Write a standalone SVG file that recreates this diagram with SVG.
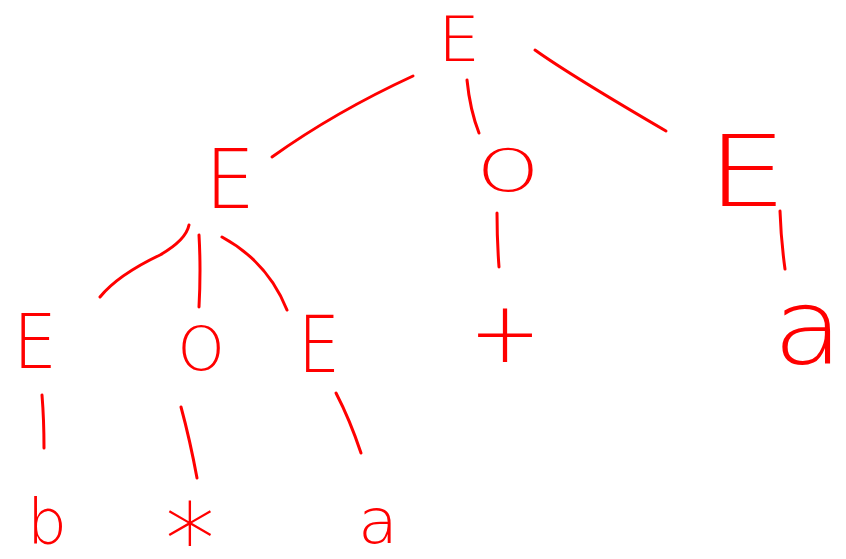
<svg xmlns="http://www.w3.org/2000/svg" width="846" height="559" viewBox="0 0 846 559">
<style>
.t{font-family:"DejaVu Sans","Liberation Sans",sans-serif;font-weight:200;fill:#ff0000;text-anchor:middle}
.e{fill:none;stroke:#ff0000;stroke-width:3;stroke-linecap:round;stroke-linejoin:round}
</style>
<rect width="846" height="559" fill="#ffffff"/>
<g id="connectors">
<path class="e" d="M413,76 Q335,112 272,157"/>
<path class="e" d="M467,80 Q470,110 479,133"/>
<path class="e" d="M535,50 Q570,75 666,131"/>
<path class="e" d="M189,225 Q186,240 160,255 Q118,275 100,297"/>
<path class="e" d="M199,235 Q201,270 199,307"/>
<path class="e" d="M222,237 Q268,262 287,310"/>
<path class="e" d="M497,213 Q497,240 499,267"/>
<path class="e" d="M780,211 Q781,240 785,269"/>
<path class="e" d="M42,395 Q44,420 44,448"/>
<path class="e" d="M181,407 Q190,440 197,478"/>
<path class="e" d="M336,393 Q350,420 361,453"/>
</g>
<g id="n-root"><text class="t" x="459" y="61" font-size="62" textLength="42" lengthAdjust="spacingAndGlyphs">E</text></g>
<g id="n-e1"><text class="t" x="230" y="208" font-size="82" textLength="50" lengthAdjust="spacingAndGlyphs">E</text></g>
<g id="n-o1"><text class="t" x="508" y="191" font-size="58" textLength="62" lengthAdjust="spacingAndGlyphs">O</text></g>
<g id="n-e2"><text class="t" x="747" y="206" font-size="98" textLength="80" lengthAdjust="spacingAndGlyphs">E</text></g>
<g id="n-e3"><text class="t" x="35" y="368" font-size="74" textLength="44" lengthAdjust="spacingAndGlyphs">E</text></g>
<g id="n-o2"><text class="t" x="201" y="370" font-size="60">O</text></g>
<g id="n-e4"><text class="t" x="319" y="372" font-size="78" textLength="42" lengthAdjust="spacingAndGlyphs">E</text></g>
<g id="n-plus"><text class="t" x="505" y="362" font-size="86">+</text></g>
<g id="n-a1"><text class="t" x="808" y="364" font-size="105" textLength="70" lengthAdjust="spacingAndGlyphs">a</text></g>
<g id="n-b"><text class="t" x="47" y="543" font-size="63">b</text></g>
<g id="n-star"><text class="t" x="190" y="575" font-size="100">*</text></g>
<g id="n-a2"><text class="t" x="378" y="543" font-size="63" textLength="40" lengthAdjust="spacingAndGlyphs">a</text></g>
</svg>
